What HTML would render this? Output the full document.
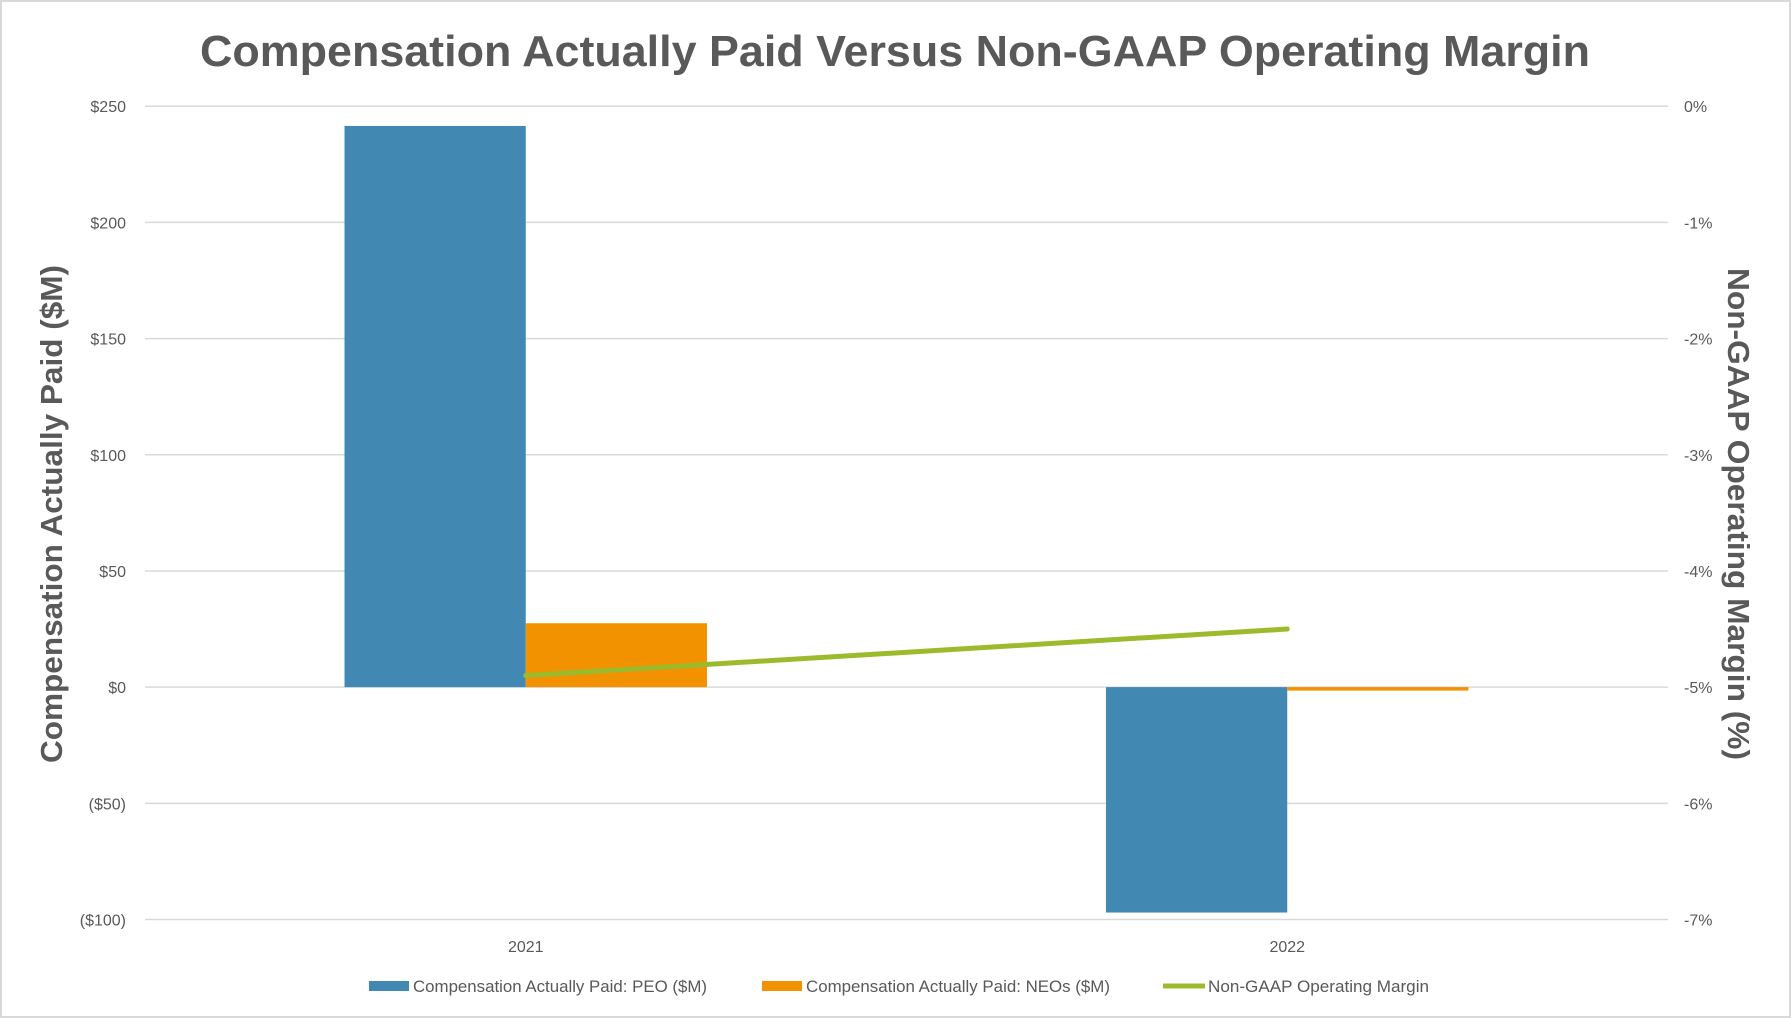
<!DOCTYPE html>
<html><head><meta charset="utf-8"><style>
html,body{margin:0;padding:0;background:#fff}
svg{display:block}
text{font-family:"Liberation Sans",sans-serif;fill:#595959}
</style></head><body>
<svg id="chart" width="1791" height="1018" viewBox="0 0 1791 1018">
<rect x="1" y="1" width="1789" height="1016" fill="#fff" stroke="#d9d9d9" stroke-width="2"/>
<text x="895" y="66" text-anchor="middle" font-size="44" font-weight="bold" textLength="1390" lengthAdjust="spacingAndGlyphs">Compensation Actually Paid Versus Non-GAAP Operating Margin</text>
<g id="grid"></g><g id="bars"></g><g id="line"></g><g id="labels"></g>
<text transform="translate(62,514) rotate(-90)" text-anchor="middle" font-size="31" font-weight="bold" textLength="498" lengthAdjust="spacingAndGlyphs">Compensation  Actually Paid ($M)</text>
<text transform="translate(1728,514) rotate(90)" text-anchor="middle" font-size="31" font-weight="bold" textLength="492" lengthAdjust="spacingAndGlyphs">Non-GAAP Operating Margin (%)</text>
<g>
<rect x="369" y="981" width="40" height="10" fill="#4189b3"/>
<text x="413" y="992" font-size="16.5" textLength="294" lengthAdjust="spacingAndGlyphs">Compensation Actually Paid: PEO ($M)</text>
<rect x="762" y="981" width="40" height="10" fill="#f39200"/>
<text x="806" y="992" font-size="16.5" textLength="304" lengthAdjust="spacingAndGlyphs">Compensation Actually Paid: NEOs ($M)</text>
<line x1="1163" y1="986" x2="1205" y2="986" stroke="#9bbb2c" stroke-width="5"/>
<text x="1208" y="992" font-size="16.5" textLength="221" lengthAdjust="spacingAndGlyphs">Non-GAAP Operating Margin</text>
</g>
</svg>
<script>
const categories = ["2021","2022"];
const peoValues = [241.5, -97];
const neoValues = [27.5, -1.5];
const marginValues = [-4.9, -4.5];
const leftTicks = [250,200,150,100,50,0,-50,-100];
const leftTickLabels = ["$250","$200","$150","$100","$50","$0","($50)","($100)"];
const rightTicks = [0,-1,-2,-3,-4,-5,-6,-7];
const rightTickLabels = ["0%","-1%","-2%","-3%","-4%","-5%","-6%","-7%"];

const NS="http://www.w3.org/2000/svg";
const X0=145,X1=1668,YT=106.2,YB=919.5;
const yL=v=>YT+(250-v)/350*(YB-YT);
const yR=v=>YT+(0-v)/7*(YB-YT);
const band=(X1-X0)/categories.length;
const xC=i=>X0+band*(i+0.5);
const bw=band*0.238;
function mk(tag,attrs,parent){const e=document.createElementNS(NS,tag);for(const k in attrs)e.setAttribute(k,attrs[k]);document.getElementById(parent).appendChild(e);return e;}
leftTicks.forEach((t,i)=>{
  const g=mk('line',{x1:X0,x2:X1,y1:yL(t),y2:yL(t),stroke:'#d9d9d9','stroke-width':1.5},'grid');
  
  
  const l=mk('text',{x:126,y:yL(t)+6,'text-anchor':'end','font-size':16},'labels');
  l.textContent=leftTickLabels[i];
  
  
});
rightTicks.forEach((t,i)=>{
  const l=mk('text',{x:1684,y:yR(t)+6,'font-size':16},'labels');
  l.textContent=rightTickLabels[i];
  
  
});
categories.forEach((c,i)=>{
  const cx=xC(i);
  const p=peoValues[i];
  const b1=mk('rect',{x:cx-bw,y:Math.min(yL(p),yL(0)),width:bw,height:Math.abs(yL(p)-yL(0)),fill:'#4189b3'},'bars');
  
  
  const n=neoValues[i];
  const b2=mk('rect',{x:cx,y:Math.min(yL(n),yL(0)),width:bw,height:Math.max(Math.abs(yL(n)-yL(0)),1),fill:'#f39200'},'bars');
  
  
  const l=mk('text',{x:cx,y:952,'text-anchor':'middle','font-size':16},'labels');
  l.textContent=c;
  
  
});
const pts=marginValues.map((v,i)=>xC(i)+','+yR(v)).join(' ');
const pl=mk('polyline',{points:pts,fill:'none',stroke:'#9bbb2c','stroke-width':5,'stroke-linecap':'round'},'line');


</script>
</body></html>
